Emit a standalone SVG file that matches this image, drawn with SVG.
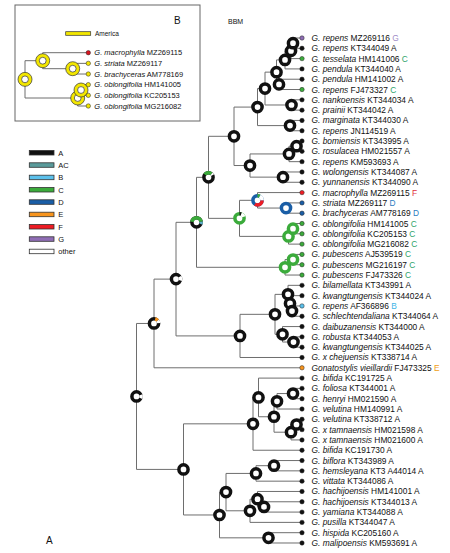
<svg xmlns="http://www.w3.org/2000/svg" width="450" height="553" viewBox="0 0 450 553">
<style>
text{font-family:"Liberation Sans",Arial,sans-serif;fill:#111}
.lbl{font-size:8.4px}
.ilbl{font-size:7.5px}
.sp{font-style:italic}
.br{fill:none;stroke:#6e6e6e;stroke-width:1}
.rg{fill:#fff;stroke:#111;stroke-width:3.5}
.arc{fill:none;stroke-width:3.5}
.tip{stroke:#222;stroke-width:0.5}
.lg{stroke:#333;stroke-width:0.8}
.yr{fill:#f2e600;stroke:#333;stroke-width:0.7}
.yi{fill:#fff;stroke:#333;stroke-width:0.7}
.cG{fill:#a08cc8}.cC{fill:#2ea36b}.cD{fill:#2b7bbf}.cF{fill:#e0303a}.cB{fill:#3fb6e6}.cE{fill:#f0a020}
</style>
<defs>
<circle id="ring" r="4.6" class="rg"/>
</defs>

<!-- Inset B -->
<g id="inset">
<rect x="15" y="5" width="185" height="116" fill="#fff" stroke="#666" stroke-width="1"/>
<text x="174" y="24" style="font-size:10px">B</text>
<rect x="65.7" y="31.7" width="25" height="3.6" fill="#f2e600" stroke="#333" stroke-width="0.7"/>
<text x="95" y="35.6" style="font-size:6.5px">America</text>
<g id="inset-connectors">
<path class="br" d="M72.7,68.69V63.36H88.3M72.7,68.69V74.02H88.3"/>
<path class="br" d="M42.7,60.7V52.7H88.3M42.7,60.7V68.69H72.7"/>
<path class="br" d="M81,90.01V84.68H88.3M81,90.01V95.34H88.3"/>
<path class="br" d="M77.7,98V90.01H81M77.7,98V106H88.3"/>
<path class="br" d="M25,79.35V60.7H42.7M25,79.35V98H77.7"/>
</g>
<g id="inset-nodes">
<g id="i-root"><circle cx="25" cy="79.35" r="7" class="yr"/><circle cx="25" cy="79.35" r="3.4" class="yi"/></g>
<g id="i-n1"><circle cx="42.7" cy="60.7" r="7" class="yr"/><circle cx="42.7" cy="60.7" r="3.4" class="yi"/></g>
<g id="i-n23"><circle cx="72.7" cy="68.69" r="7" class="yr"/><circle cx="72.7" cy="68.69" r="3.4" class="yi"/></g>
<g id="i-n456"><circle cx="77.7" cy="98" r="7" class="yr"/><circle cx="77.7" cy="98" r="3.4" class="yi"/></g>
<g id="i-n45"><circle cx="81" cy="90.01" r="7" class="yr"/><circle cx="81" cy="90.01" r="3.4" class="yi"/></g>
<g id="i-t1"><circle cx="88.3" cy="52.7" r="2.2" fill="#d8141e" class="tip"/><text class="ilbl" x="94.3" y="55.4"><tspan class="sp">G. macrophylla</tspan> MZ269115</text></g>
<g id="i-t2"><circle cx="88.3" cy="63.36" r="2.2" fill="#f2e600" class="tip"/><text class="ilbl" x="94.3" y="66.06"><tspan class="sp">G. striata</tspan> MZ269117</text></g>
<g id="i-t3"><circle cx="88.3" cy="74.02" r="2.2" fill="#f2e600" class="tip"/><text class="ilbl" x="94.3" y="76.72"><tspan class="sp">G. brachyceras</tspan> AM778169</text></g>
<g id="i-t4"><circle cx="88.3" cy="84.68" r="2.2" fill="#f2e600" class="tip"/><text class="ilbl" x="94.3" y="87.38"><tspan class="sp">G. oblongifolia</tspan> HM141005</text></g>
<g id="i-t5"><circle cx="88.3" cy="95.34" r="2.2" fill="#f2e600" class="tip"/><text class="ilbl" x="94.3" y="98.04"><tspan class="sp">G. oblongifolia</tspan> KC205153</text></g>
<g id="i-t6"><circle cx="88.3" cy="106" r="2.2" fill="#f2e600" class="tip"/><text class="ilbl" x="94.3" y="108.7"><tspan class="sp">G. oblongifolia</tspan> MG216082</text></g>
</g>
</g>

<text x="228" y="24" style="font-size:7px">BBM</text>
<text x="46" y="544" style="font-size:10px">A</text>

<!-- Legend -->
<g id="legend" style="font-size:7.5px">
<rect x="29.3" y="150.5" width="24.7" height="4.5" fill="#111" class="lg"/><text x="58.3" y="155.5">A</text>
<rect x="29.3" y="162.8" width="24.7" height="4.5" fill="#5a9a9a" class="lg"/><text x="58.3" y="167.8">AC</text>
<rect x="29.3" y="175.2" width="24.7" height="4.5" fill="#5bc0eb" class="lg"/><text x="58.3" y="180.2">B</text>
<rect x="29.3" y="187.5" width="24.7" height="4.5" fill="#3bab3b" class="lg"/><text x="58.3" y="192.5">C</text>
<rect x="29.3" y="199.8" width="24.7" height="4.5" fill="#1a5ea6" class="lg"/><text x="58.3" y="204.8">D</text>
<rect x="29.3" y="212.2" width="24.7" height="4.5" fill="#f7941d" class="lg"/><text x="58.3" y="217.2">E</text>
<rect x="29.3" y="224.5" width="24.7" height="4.5" fill="#ed1c24" class="lg"/><text x="58.3" y="229.5">F</text>
<rect x="29.3" y="236.8" width="24.7" height="4.5" fill="#8f6db5" class="lg"/><text x="58.3" y="241.8">G</text>
<rect x="29.3" y="249.2" width="24.7" height="4.5" fill="#fff" class="lg"/><text x="58.3" y="254.2">other</text>
</g>

<!-- Connectors -->
<g id="connectors">
<path class="br" d="M293,43.15V38H302M293,43.15V48.31H302"/>
<path class="br" d="M291,50.88V43.15H293M291,50.88V58.61H302"/>
<path class="br" d="M285,59.9V50.88H291M285,59.9V68.92H302"/>
<path class="br" d="M279,84.38V79.22H302M279,84.38V89.53H302"/>
<path class="br" d="M276.5,72.14V59.9H285M276.5,72.14V84.38H279"/>
<path class="br" d="M291.5,104.99V99.84H302M291.5,104.99V110.14H302"/>
<path class="br" d="M265,88.57V72.14H276.5M265,88.57V104.99H291.5"/>
<path class="br" d="M290,125.6V120.45H302M290,125.6V130.75H302"/>
<path class="br" d="M257.5,107.08V88.57H265M257.5,107.08V125.6H290"/>
<path class="br" d="M296.5,146.21V141.06H302M296.5,146.21V151.37H302"/>
<path class="br" d="M289,153.94V146.21H296.5M289,153.94V161.67H302"/>
<path class="br" d="M283,177.13V171.98H302M283,177.13V182.28H302"/>
<path class="br" d="M250,165.53V153.94H289M250,165.53V177.13H283"/>
<path class="br" d="M234,136.31V107.08H257.5M234,136.31V165.53H250"/>
<path class="br" d="M286,208.05V202.9H302M286,208.05V213.2H302"/>
<path class="br" d="M257.5,200.32V192.59H302M257.5,200.32V208.05H286"/>
<path class="br" d="M293,228.66V223.51H302M293,228.66V233.81H302"/>
<path class="br" d="M288.5,236.39V228.66H293M288.5,236.39V244.12H302"/>
<path class="br" d="M239.5,218.35V200.32H257.5M239.5,218.35V236.39H288.5"/>
<path class="br" d="M208.5,177.33V136.31H234M208.5,177.33V218.35H239.5"/>
<path class="br" d="M293,259.58V254.43H302M293,259.58V264.73H302"/>
<path class="br" d="M285,267.31V259.58H293M285,267.31V275.04H302"/>
<path class="br" d="M196.5,222.32V177.33H208.5M196.5,222.32V267.31H285"/>
<path class="br" d="M292,311.11V305.96H302M292,311.11V316.26H302"/>
<path class="br" d="M290,303.38V295.65H302M290,303.38V311.11H292"/>
<path class="br" d="M288,294.36V285.34H302M288,294.36V303.38H290"/>
<path class="br" d="M293.5,342.03V336.87H302M293.5,342.03V347.18H302"/>
<path class="br" d="M282.5,334.3V326.57H302M282.5,334.3V342.03H293.5"/>
<path class="br" d="M275,314.33V294.36H288M275,314.33V334.3H282.5"/>
<path class="br" d="M240,335.91V314.33H275M240,335.91V357.49H302"/>
<path class="br" d="M176,279.12V222.32H196.5M176,279.12V335.91H240"/>
<path class="br" d="M154,323.46V279.12H176M154,323.46V367.79H302"/>
<path class="br" d="M293,393.56V388.4H302M293,393.56V398.71H302"/>
<path class="br" d="M277,401.29V393.56H293M277,401.29V409.02H302"/>
<path class="br" d="M296.5,424.48V419.32H302M296.5,424.48V429.63H302"/>
<path class="br" d="M291,432.2V424.48H296.5M291,432.2V439.93H302"/>
<path class="br" d="M274,416.75V401.29H277M274,416.75V432.2H291"/>
<path class="br" d="M258.5,397.43V378.1H302M258.5,397.43V416.75H274"/>
<path class="br" d="M253,423.84V397.43H258.5M253,423.84V450.24H302"/>
<path class="br" d="M274,465.7V460.55H302M274,465.7V470.85H302"/>
<path class="br" d="M256,473.43V465.7H274M256,473.43V481.16H302"/>
<path class="br" d="M264,506.93V501.77H302M264,506.93V512.08H302"/>
<path class="br" d="M257.5,499.2V491.46H302M257.5,499.2V506.93H264"/>
<path class="br" d="M250,510.79V499.2H257.5M250,510.79V522.38H302"/>
<path class="br" d="M226,492.11V473.43H256M226,492.11V510.79H250"/>
<path class="br" d="M268.5,537.84V532.69H302M268.5,537.84V542.99H302"/>
<path class="br" d="M219.5,514.98V492.11H226M219.5,514.98V537.84H268.5"/>
<path class="br" d="M183.5,469.41V423.84H253M183.5,469.41V514.98H219.5"/>
<path class="br" d="M136.5,396.44V323.46H154M136.5,396.44V469.41H183.5"/>
</g>

<!-- Internal nodes (circumference at r=4.6 is 28.9) -->
<g id="nodes">
<g id="n-root"><use href="#ring" x="136.5" y="396.44"/><circle cx="136.5" cy="396.44" r="4.6" class="arc" stroke="#fff" stroke-dasharray="3.6 25.3" stroke-dashoffset="-5.4" transform="rotate(-90 136.5 396.44)"/></g>
<g id="n-M"><use href="#ring" x="154" y="323.46"/><circle cx="154" cy="323.46" r="4.6" class="arc" stroke="#f7941d" stroke-dasharray="2.8 26.1" stroke-dashoffset="-1.2" transform="rotate(-90 154 323.46)"/><circle cx="154" cy="323.46" r="4.6" class="arc" stroke="#fff" stroke-dasharray="2.6 26.3" stroke-dashoffset="-4.0" transform="rotate(-90 154 323.46)"/></g>
<g id="n-L"><use href="#ring" x="176" y="279.12"/><circle cx="176" cy="279.12" r="4.6" class="arc" stroke="#fff" stroke-dasharray="4.0 24.9" stroke-dashoffset="-4.4" transform="rotate(-90 176 279.12)"/></g>
<g id="n-I"><use href="#ring" x="196.5" y="222.32"/><circle cx="196.5" cy="222.32" r="4.6" class="arc" stroke="#3bab3b" stroke-dasharray="13.6 15.3" stroke-dashoffset="-21.7" transform="rotate(-90 196.5 222.32)"/><circle cx="196.5" cy="222.32" r="4.6" class="arc" stroke="#5bb0c8" stroke-dasharray="2.4 26.5" stroke-dashoffset="-6.4" transform="rotate(-90 196.5 222.32)"/></g>
<g id="n-H"><use href="#ring" x="208.5" y="177.33"/><circle cx="208.5" cy="177.33" r="4.6" class="arc" stroke="#3bab3b" stroke-dasharray="8.0 20.9" stroke-dashoffset="-24.1" transform="rotate(-90 208.5 177.33)"/><circle cx="208.5" cy="177.33" r="4.6" class="arc" stroke="#fff" stroke-dasharray="1.6 27.3" stroke-dashoffset="-3.2" transform="rotate(-90 208.5 177.33)"/></g>
<g id="n-G"><circle cx="239.5" cy="218.35" r="4.6" class="rg" style="stroke:#3bab3b"/><circle cx="239.5" cy="218.35" r="4.6" class="arc" stroke="#111" stroke-dasharray="1.8 27.1" stroke-dashoffset="0" transform="rotate(-90 239.5 218.35)"/><circle cx="239.5" cy="218.35" r="4.6" class="arc" stroke="#fff" stroke-dasharray="3.6 25.3" stroke-dashoffset="-1.8" transform="rotate(-90 239.5 218.35)"/></g>
<g id="n-F"><circle cx="257.5" cy="200.32" r="4.6" class="rg" style="stroke:#1a5ea6"/><circle cx="257.5" cy="200.32" r="4.6" class="arc" stroke="#3bab3b" stroke-dasharray="2.4 26.5" stroke-dashoffset="0" transform="rotate(-90 257.5 200.32)"/><circle cx="257.5" cy="200.32" r="4.6" class="arc" stroke="#fff" stroke-dasharray="4.8 24.1" stroke-dashoffset="-2.4" transform="rotate(-90 257.5 200.32)"/><circle cx="257.5" cy="200.32" r="4.6" class="arc" stroke="#ed1c24" stroke-dasharray="9.6 19.3" stroke-dashoffset="-7.2" transform="rotate(-90 257.5 200.32)"/></g>
<g id="n-17-18"><circle cx="286" cy="208.05" r="4.6" class="rg" style="stroke:#1a5ea6"/></g>
<g id="n-19-21"><circle cx="288.5" cy="236.39" r="4.6" class="rg" style="stroke:#3bab3b"/></g>
<g id="n-19-20"><circle cx="293" cy="228.66" r="4.6" class="rg" style="stroke:#3bab3b"/></g>
<g id="n-22-24"><circle cx="285" cy="267.31" r="4.6" class="rg" style="stroke:#3bab3b"/></g>
<g id="n-22-23"><circle cx="293" cy="259.58" r="4.6" class="rg" style="stroke:#3bab3b"/></g>
<g id="n-E"><use href="#ring" x="234" y="136.31"/></g>
<g id="n-C"><use href="#ring" x="257.5" y="107.08"/></g>
<g id="n-B"><use href="#ring" x="265" y="88.57"/></g>
<g id="n-A"><use href="#ring" x="276.5" y="72.14"/></g>
<g id="n-5-6"><use href="#ring" x="279" y="84.38"/></g>
<g id="n-1-4"><use href="#ring" x="285" y="59.9"/></g>
<g id="n-1-3"><use href="#ring" x="291" y="50.88"/></g>
<g id="n-1-2"><use href="#ring" x="293" y="43.15"/></g>
<g id="n-7-8"><use href="#ring" x="291.5" y="104.99"/></g>
<g id="n-9-10"><use href="#ring" x="290" y="125.6"/></g>
<g id="n-D"><use href="#ring" x="250" y="165.53"/></g>
<g id="n-11-13"><use href="#ring" x="289" y="153.94"/></g>
<g id="n-11-12"><use href="#ring" x="296.5" y="146.21"/></g>
<g id="n-14-15"><use href="#ring" x="283" y="177.13"/></g>
<g id="n-K"><use href="#ring" x="240" y="335.91"/></g>
<g id="n-J"><use href="#ring" x="275" y="314.33"/></g>
<g id="n-25-28"><use href="#ring" x="288" y="294.36"/></g>
<g id="n-26-28"><use href="#ring" x="290" y="303.38"/></g>
<g id="n-27-28"><use href="#ring" x="292" y="311.11"/></g>
<g id="n-29-31"><use href="#ring" x="282.5" y="334.3"/></g>
<g id="n-30-31"><use href="#ring" x="293.5" y="342.03"/></g>
<g id="n-U"><use href="#ring" x="183.5" y="469.41"/></g>
<g id="n-Q"><use href="#ring" x="253" y="423.84"/></g>
<g id="n-P1"><use href="#ring" x="258.5" y="397.43"/></g>
<g id="n-P2"><use href="#ring" x="274" y="416.75"/></g>
<g id="n-P3"><use href="#ring" x="277" y="401.29"/></g>
<g id="n-35-36"><use href="#ring" x="293" y="393.56"/></g>
<g id="n-P4"><use href="#ring" x="291" y="432.2"/></g>
<g id="n-38-39"><use href="#ring" x="296.5" y="424.48"/></g>
<g id="n-T"><use href="#ring" x="219.5" y="514.98"/></g>
<g id="n-S"><use href="#ring" x="226" y="492.11"/></g>
<g id="n-R"><use href="#ring" x="256" y="473.43"/></g>
<g id="n-42-43"><use href="#ring" x="274" y="465.7"/></g>
<g id="n-45-48"><use href="#ring" x="250" y="510.79"/></g>
<g id="n-45-47"><use href="#ring" x="257.5" y="499.2"/></g>
<g id="n-46-47"><use href="#ring" x="264" y="506.93"/></g>
<g id="n-49-50"><use href="#ring" x="268.5" y="537.84"/></g>
</g>

<!-- Tips -->
<g id="tips">
<g id="t1"><circle cx="302" cy="38" r="2.2" fill="#8f6db5" class="tip"/><text class="lbl" x="311.5" y="41"><tspan class="sp">G. repens</tspan> MZ269116 <tspan class="cG">G</tspan></text></g>
<g id="t2"><circle cx="302" cy="48.31" r="2.2" fill="#111" class="tip"/><text class="lbl" x="311.5" y="51.31"><tspan class="sp">G. repens</tspan> KT344049 A</text></g>
<g id="t3"><circle cx="302" cy="58.61" r="2.2" fill="#3bab3b" class="tip"/><text class="lbl" x="311.5" y="61.61"><tspan class="sp">G. tesselata</tspan> HM141006 <tspan class="cC">C</tspan></text></g>
<g id="t4"><circle cx="302" cy="68.92" r="2.2" fill="#111" class="tip"/><text class="lbl" x="311.5" y="71.92"><tspan class="sp">G. pendula</tspan> KT344040 A</text></g>
<g id="t5"><circle cx="302" cy="79.22" r="2.2" fill="#111" class="tip"/><text class="lbl" x="311.5" y="82.22"><tspan class="sp">G. pendula</tspan> HM141002 A</text></g>
<g id="t6"><circle cx="302" cy="89.53" r="2.2" fill="#3bab3b" class="tip"/><text class="lbl" x="311.5" y="92.53"><tspan class="sp">G. repens</tspan> FJ473327 <tspan class="cC">C</tspan></text></g>
<g id="t7"><circle cx="302" cy="99.84" r="2.2" fill="#111" class="tip"/><text class="lbl" x="311.5" y="102.84"><tspan class="sp">G. nankoensis</tspan> KT344034 A</text></g>
<g id="t8"><circle cx="302" cy="110.14" r="2.2" fill="#111" class="tip"/><text class="lbl" x="311.5" y="113.14"><tspan class="sp">G. prainii</tspan> KT344042 A</text></g>
<g id="t9"><circle cx="302" cy="120.45" r="2.2" fill="#111" class="tip"/><text class="lbl" x="311.5" y="123.45"><tspan class="sp">G. marginata</tspan> KT344030 A</text></g>
<g id="t10"><circle cx="302" cy="130.75" r="2.2" fill="#111" class="tip"/><text class="lbl" x="311.5" y="133.75"><tspan class="sp">G. repens</tspan> JN114519 A</text></g>
<g id="t11"><circle cx="302" cy="141.06" r="2.2" fill="#111" class="tip"/><text class="lbl" x="311.5" y="144.06"><tspan class="sp">G. bomiensis</tspan> KT343995 A</text></g>
<g id="t12"><circle cx="302" cy="151.37" r="2.2" fill="#111" class="tip"/><text class="lbl" x="311.5" y="154.37"><tspan class="sp">G. rosulacea</tspan> HM021557 A</text></g>
<g id="t13"><circle cx="302" cy="161.67" r="2.2" fill="#111" class="tip"/><text class="lbl" x="311.5" y="164.67"><tspan class="sp">G. repens</tspan> KM593693 A</text></g>
<g id="t14"><circle cx="302" cy="171.98" r="2.2" fill="#111" class="tip"/><text class="lbl" x="311.5" y="174.98"><tspan class="sp">G. wolongensis</tspan> KT344087 A</text></g>
<g id="t15"><circle cx="302" cy="182.28" r="2.2" fill="#111" class="tip"/><text class="lbl" x="311.5" y="185.28"><tspan class="sp">G. yunnanensis</tspan> KT344090 A</text></g>
<g id="t16"><circle cx="302" cy="192.59" r="2.2" fill="#ed1c24" class="tip"/><text class="lbl" x="311.5" y="195.59"><tspan class="sp">G. macrophylla</tspan> MZ269115 <tspan class="cF">F</tspan></text></g>
<g id="t17"><circle cx="302" cy="202.9" r="2.2" fill="#1a5ea6" class="tip"/><text class="lbl" x="311.5" y="205.9"><tspan class="sp">G. striata</tspan> MZ269117 <tspan class="cD">D</tspan></text></g>
<g id="t18"><circle cx="302" cy="213.2" r="2.2" fill="#1a5ea6" class="tip"/><text class="lbl" x="311.5" y="216.2"><tspan class="sp">G. brachyceras</tspan> AM778169 <tspan class="cD">D</tspan></text></g>
<g id="t19"><circle cx="302" cy="223.51" r="2.2" fill="#3bab3b" class="tip"/><text class="lbl" x="311.5" y="226.51"><tspan class="sp">G. oblongifolia</tspan> HM141005 <tspan class="cC">C</tspan></text></g>
<g id="t20"><circle cx="302" cy="233.81" r="2.2" fill="#3bab3b" class="tip"/><text class="lbl" x="311.5" y="236.81"><tspan class="sp">G. oblongifolia</tspan> KC205153 <tspan class="cC">C</tspan></text></g>
<g id="t21"><circle cx="302" cy="244.12" r="2.2" fill="#3bab3b" class="tip"/><text class="lbl" x="311.5" y="247.12"><tspan class="sp">G. oblongifolia</tspan> MG216082 <tspan class="cC">C</tspan></text></g>
<g id="t22"><circle cx="302" cy="254.43" r="2.2" fill="#3bab3b" class="tip"/><text class="lbl" x="311.5" y="257.43"><tspan class="sp">G. pubescens</tspan> AJ539519 <tspan class="cC">C</tspan></text></g>
<g id="t23"><circle cx="302" cy="264.73" r="2.2" fill="#3bab3b" class="tip"/><text class="lbl" x="311.5" y="267.73"><tspan class="sp">G. pubescens</tspan> MG216197 <tspan class="cC">C</tspan></text></g>
<g id="t24"><circle cx="302" cy="275.04" r="2.2" fill="#3bab3b" class="tip"/><text class="lbl" x="311.5" y="278.04"><tspan class="sp">G. pubescens</tspan> FJ473326 <tspan class="cC">C</tspan></text></g>
<g id="t25"><circle cx="302" cy="285.34" r="2.2" fill="#111" class="tip"/><text class="lbl" x="311.5" y="288.34"><tspan class="sp">G. bilamellata</tspan> KT343991 A</text></g>
<g id="t26"><circle cx="302" cy="295.65" r="2.2" fill="#111" class="tip"/><text class="lbl" x="311.5" y="298.65"><tspan class="sp">G. kwangtungensis</tspan> KT344024 A</text></g>
<g id="t27"><circle cx="302" cy="305.96" r="2.2" fill="#5bc0eb" class="tip"/><text class="lbl" x="311.5" y="308.96"><tspan class="sp">G. repens</tspan> AF366896 <tspan class="cB">B</tspan></text></g>
<g id="t28"><circle cx="302" cy="316.26" r="2.2" fill="#111" class="tip"/><text class="lbl" x="311.5" y="319.26"><tspan class="sp">G. schlechtendaliana</tspan> KT344064 A</text></g>
<g id="t29"><circle cx="302" cy="326.57" r="2.2" fill="#111" class="tip"/><text class="lbl" x="311.5" y="329.57"><tspan class="sp">G. daibuzanensis</tspan> KT344000 A</text></g>
<g id="t30"><circle cx="302" cy="336.87" r="2.2" fill="#111" class="tip"/><text class="lbl" x="311.5" y="339.87"><tspan class="sp">G. robusta</tspan> KT344053 A</text></g>
<g id="t31"><circle cx="302" cy="347.18" r="2.2" fill="#111" class="tip"/><text class="lbl" x="311.5" y="350.18"><tspan class="sp">G. kwangtungensis</tspan> KT344025 A</text></g>
<g id="t32"><circle cx="302" cy="357.49" r="2.2" fill="#111" class="tip"/><text class="lbl" x="311.5" y="360.49"><tspan class="sp">G. x chejuensis</tspan> KT338714 A</text></g>
<g id="t33"><circle cx="302" cy="367.79" r="2.2" fill="#f7941d" class="tip"/><text class="lbl" x="311.5" y="370.79"><tspan class="sp">Gonatostylis vieillardii</tspan> FJ473325 <tspan class="cE">E</tspan></text></g>
<g id="t34"><circle cx="302" cy="378.1" r="2.2" fill="#111" class="tip"/><text class="lbl" x="311.5" y="381.1"><tspan class="sp">G. bifida</tspan> KC191725 A</text></g>
<g id="t35"><circle cx="302" cy="388.4" r="2.2" fill="#111" class="tip"/><text class="lbl" x="311.5" y="391.4"><tspan class="sp">G. foliosa</tspan> KT344001 A</text></g>
<g id="t36"><circle cx="302" cy="398.71" r="2.2" fill="#111" class="tip"/><text class="lbl" x="311.5" y="401.71"><tspan class="sp">G. henryi</tspan> HM021590 A</text></g>
<g id="t37"><circle cx="302" cy="409.02" r="2.2" fill="#111" class="tip"/><text class="lbl" x="311.5" y="412.02"><tspan class="sp">G. velutina</tspan> HM140991 A</text></g>
<g id="t38"><circle cx="302" cy="419.32" r="2.2" fill="#111" class="tip"/><text class="lbl" x="311.5" y="422.32"><tspan class="sp">G. velutina</tspan> KT338712 A</text></g>
<g id="t39"><circle cx="302" cy="429.63" r="2.2" fill="#111" class="tip"/><text class="lbl" x="311.5" y="432.63"><tspan class="sp">G. x tamnaensis</tspan> HM021598 A</text></g>
<g id="t40"><circle cx="302" cy="439.93" r="2.2" fill="#111" class="tip"/><text class="lbl" x="311.5" y="442.93"><tspan class="sp">G. x tamnaensis</tspan> HM021600 A</text></g>
<g id="t41"><circle cx="302" cy="450.24" r="2.2" fill="#111" class="tip"/><text class="lbl" x="311.5" y="453.24"><tspan class="sp">G. bifida</tspan> KC191730 A</text></g>
<g id="t42"><circle cx="302" cy="460.55" r="2.2" fill="#111" class="tip"/><text class="lbl" x="311.5" y="463.55"><tspan class="sp">G. biflora</tspan> KT343989 A</text></g>
<g id="t43"><circle cx="302" cy="470.85" r="2.2" fill="#111" class="tip"/><text class="lbl" x="311.5" y="473.85"><tspan class="sp">G. hemsleyana</tspan> KT3 A44014 A</text></g>
<g id="t44"><circle cx="302" cy="481.16" r="2.2" fill="#111" class="tip"/><text class="lbl" x="311.5" y="484.16"><tspan class="sp">G. vittata</tspan> KT344086 A</text></g>
<g id="t45"><circle cx="302" cy="491.46" r="2.2" fill="#111" class="tip"/><text class="lbl" x="311.5" y="494.46"><tspan class="sp">G. hachijoensis</tspan> HM141001 A</text></g>
<g id="t46"><circle cx="302" cy="501.77" r="2.2" fill="#111" class="tip"/><text class="lbl" x="311.5" y="504.77"><tspan class="sp">G. hachijoensis</tspan> KT344013 A</text></g>
<g id="t47"><circle cx="302" cy="512.08" r="2.2" fill="#111" class="tip"/><text class="lbl" x="311.5" y="515.08"><tspan class="sp">G. yamiana</tspan> KT344088 A</text></g>
<g id="t48"><circle cx="302" cy="522.38" r="2.2" fill="#111" class="tip"/><text class="lbl" x="311.5" y="525.38"><tspan class="sp">G. pusilla</tspan> KT344047 A</text></g>
<g id="t49"><circle cx="302" cy="532.69" r="2.2" fill="#111" class="tip"/><text class="lbl" x="311.5" y="535.69"><tspan class="sp">G. hispida</tspan> KC205160 A</text></g>
<g id="t50"><circle cx="302" cy="542.99" r="2.2" fill="#111" class="tip"/><text class="lbl" x="311.5" y="545.99"><tspan class="sp">G. malipoensis</tspan> KM593691 A</text></g>
</g>
</svg>
